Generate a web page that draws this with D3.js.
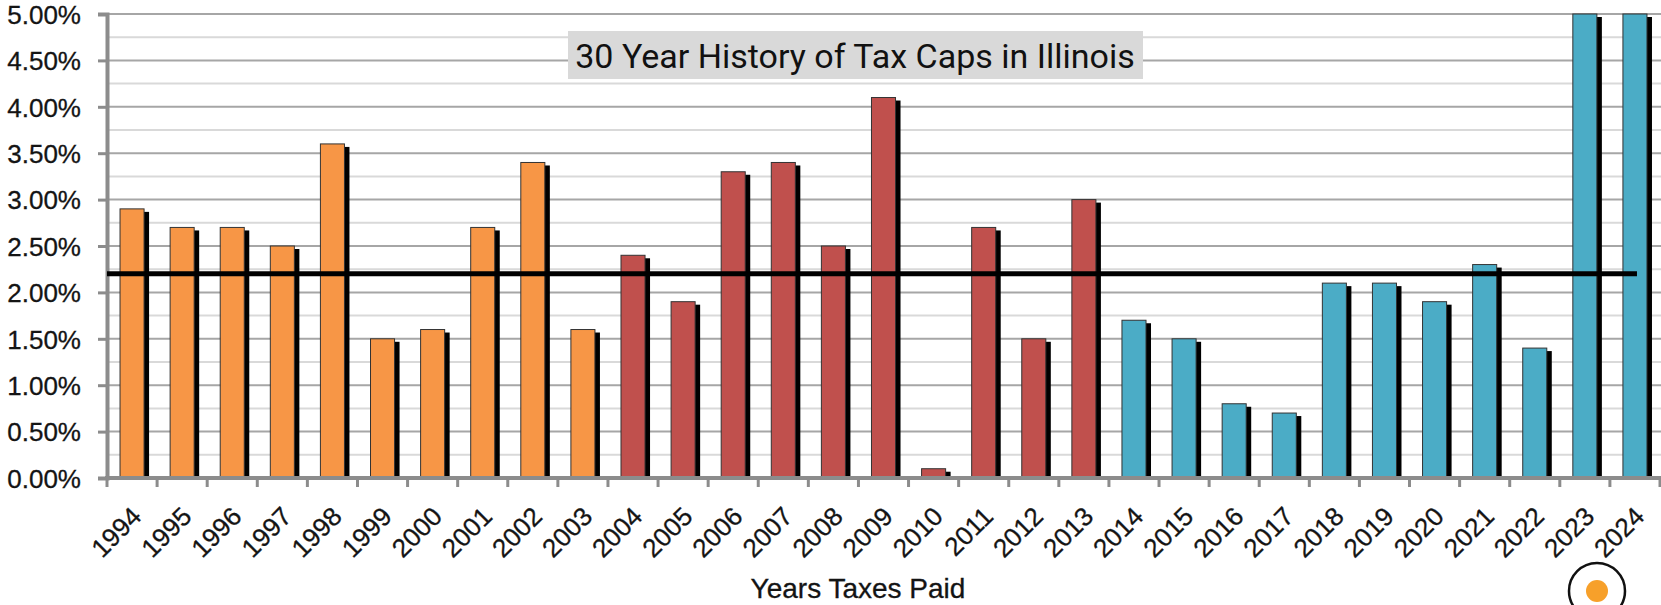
<!DOCTYPE html>
<html lang="en">
<head>
    <meta charset="UTF-8">
    <title>30 Year History of Tax Caps in Illinois</title>
    <script src="https://cdnjs.cloudflare.com/ajax/libs/d3/7.8.5/d3.min.js"></script>
    <style>
        body { margin: 0; background: #fff; }
        #chart { width: 1661px; height: 605px; }
        .tick-label { font-family: 'Liberation Sans', Arial, sans-serif; font-size: 26px; fill: #141414; stroke: #141414; stroke-width: 0.3px; }
        .chart-title { font-family: Roboto, 'Liberation Sans', sans-serif; font-size: 34px; fill: #111; }
        .axis-title { font-family: 'Liberation Sans', Arial, sans-serif; font-size: 28px; fill: #141414; stroke: #141414; stroke-width: 0.3px; }
    </style>
</head>
<body>
    <div id="chart"></div>
    <script>
        const years = ['1994','1995','1996','1997','1998','1999','2000','2001','2002','2003',
                       '2004','2005','2006','2007','2008','2009','2010','2011','2012','2013',
                       '2014','2015','2016','2017','2018','2019','2020','2021','2022','2023','2024'];
        const caps = [2.9, 2.7, 2.7, 2.5, 3.6, 1.5, 1.6, 2.7, 3.4, 1.6,
                      2.4, 1.9, 3.3, 3.4, 2.5, 4.1, 0.1, 2.7, 1.5, 3.0,
                      1.7, 1.5, 0.8, 0.7, 2.1, 2.1, 1.9, 2.3, 1.4, 5.0, 5.0];
        const period = [0,0,0,0,0,0,0,0,0,0,
                        1,1,1,1,1,1,1,1,1,1,
                        2,2,2,2,2,2,2,2,2,2,2];
        const periodColors = ['#F79646', '#C0504D', '#4BACC6'];
        const yTicks = [0, 0.5, 1, 1.5, 2, 2.5, 3, 3.5, 4, 4.5, 5];
        const minorTicks = [0.25, 0.75, 1.25, 1.75, 2.25, 2.75, 3.25, 3.75, 4.25, 4.75];
        const averageCap = 2.2;
        const chartTitle = '30 Year History of Tax Caps in Illinois';
        const xTitle = 'Years Taxes Paid';

        const data = years.map((y, i) => ({ year: y, value: caps[i], period: period[i] }));

        const W = 1661, H = 605;
        const plot = { left: 107, right: 1660, top: 14, bottom: 478 };

        const svg = d3.select('#chart').append('svg')
            .attr('width', W).attr('height', H);

        const xCat = d3.scaleBand().domain(years).range([plot.left, plot.right]).padding(0);
        const x = d3.scaleBand().domain(years).range([plot.left, plot.right])
            .paddingInner(0.52).paddingOuter(0.26);
        const y = d3.scaleLinear().domain([0, 5]).range([plot.bottom, plot.top]);

        // grid
        svg.append('g').selectAll('line').data(minorTicks).enter().append('line')
            .attr('x1', plot.left).attr('x2', W)
            .attr('y1', d => y(d)).attr('y2', d => y(d))
            .attr('stroke', '#d9d9d9').attr('stroke-width', 2);
        svg.append('g').selectAll('line').data(yTicks.slice(1)).enter().append('line')
            .attr('x1', plot.left).attr('x2', W)
            .attr('y1', d => y(d)).attr('y2', d => y(d))
            .attr('stroke', '#a6a6a6').attr('stroke-width', 2);

        // bars with shadow
        const bars = svg.append('g').selectAll('g').data(data).enter().append('g');
        bars.append('rect')
            .attr('x', d => x(d.year) + 5)
            .attr('y', d => y(d.value) + 3)
            .attr('width', x.bandwidth())
            .attr('height', d => y(0) - y(d.value) - 3)
            .attr('fill', '#000');
        bars.append('rect')
            .attr('x', d => x(d.year))
            .attr('y', d => y(d.value))
            .attr('width', x.bandwidth())
            .attr('height', d => y(0) - y(d.value))
            .attr('fill', d => periodColors[d.period])
            .attr('stroke', '#333').attr('stroke-width', 1);

        // axes
        const yAxis = svg.append('g')
            .attr('transform', `translate(${plot.left},0)`)
            .call(d3.axisLeft(y).tickValues(yTicks).tickSize(9)
                .tickFormat(d => d3.format('.2f')(d) + '%'));
        yAxis.select('.domain').attr('stroke', '#8c8c8c').attr('stroke-width', 4);
        yAxis.selectAll('.tick line').attr('stroke', '#8c8c8c').attr('stroke-width', 3);
        yAxis.selectAll('.tick text').attr('class', 'tick-label').attr('x', -26).attr('dy', '0.36em');

        svg.append('line')
            .attr('x1', plot.left - 2).attr('x2', W)
            .attr('y1', plot.bottom).attr('y2', plot.bottom)
            .attr('stroke', '#8c8c8c').attr('stroke-width', 4);
        svg.append('g').selectAll('line').data(years.concat(['end'])).enter().append('line')
            .attr('x1', d => d === 'end' ? plot.right : xCat(d))
            .attr('x2', d => d === 'end' ? plot.right : xCat(d))
            .attr('y1', plot.bottom).attr('y2', plot.bottom + 9)
            .attr('stroke', '#8c8c8c').attr('stroke-width', 3);

        svg.append('g').selectAll('text').data(years).enter().append('text')
            .attr('class', 'tick-label')
            .attr('text-anchor', 'end')
            .attr('transform', d => `translate(${xCat(d) + xCat.bandwidth() / 2 + 11},${plot.bottom + 40}) rotate(-45)`)
            .text(d => d);

        // average cap line
        svg.append('line')
            .attr('x1', plot.left).attr('x2', x(years[years.length - 1]) + x.bandwidth() - 10)
            .attr('y1', y(averageCap)).attr('y2', y(averageCap))
            .attr('stroke', '#000').attr('stroke-width', 5);

        // title box
        const title = svg.append('g');
        title.append('rect')
            .attr('x', 568).attr('y', 31).attr('width', 575).attr('height', 48)
            .attr('fill', '#d9d9d9');
        title.append('text')
            .attr('class', 'chart-title')
            .attr('x', 855).attr('y', 68)
            .attr('text-anchor', 'middle')
            .text(chartTitle);

        svg.append('text')
            .attr('class', 'axis-title')
            .attr('x', 858).attr('y', 598)
            .attr('text-anchor', 'middle')
            .text(xTitle);

        // marker at bottom right
        svg.append('circle').attr('cx', 1597).attr('cy', 591).attr('r', 28)
            .attr('fill', '#fff').attr('stroke', '#111').attr('stroke-width', 2.5);
        svg.append('circle').attr('cx', 1597).attr('cy', 591).attr('r', 11)
            .attr('fill', '#F7A02A');
    </script>
</body>
</html>
